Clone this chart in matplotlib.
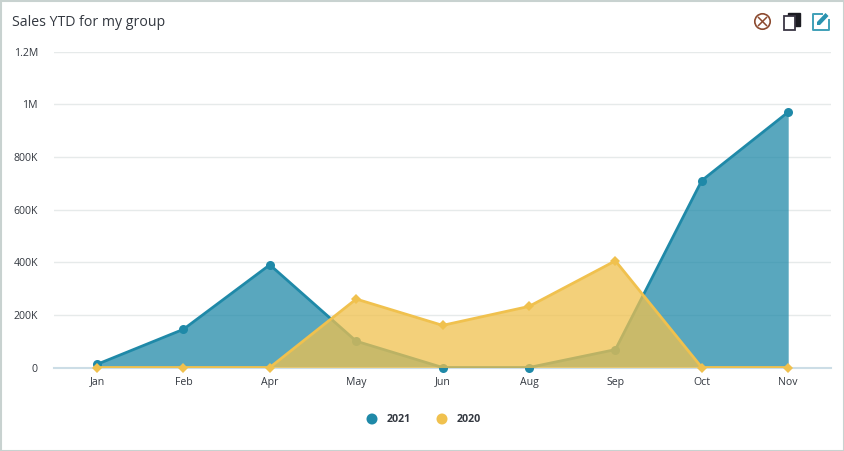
import matplotlib
matplotlib.use("Agg")
import matplotlib.pyplot as plt
from matplotlib.patches import Circle, Rectangle, Polygon
from matplotlib.ticker import FuncFormatter

months = ["Jan", "Feb", "Apr", "May", "Jun", "Aug", "Sep", "Oct", "Nov"]
sales_2021 = [12000, 145000, 390000, 100000, 0, 0, 68000, 710000, 970000]
sales_2020 = [0, 0, 0, 260000, 160000, 232000, 405000, 0, 0]
yticks = [0, 200000, 400000, 600000, 800000, 1000000, 1200000]
ytick_labels = ["0", "200K", "400K", "600K", "800K", "1M", "1.2M"]

W, H = 844, 451
col_2021 = "#1F89A8"
col_2020 = "#F0C14E"
text_col = "#333840"

plt.rcParams['font.family'] = ['Open Sans', 'DejaVu Sans']

fig = plt.figure(figsize=(W/100, H/100), dpi=100, facecolor="white")

# plot area, in pixels of the reference
left, right, top, bottom = 53.8, 831.4, 51.5, 367.5
ax = fig.add_axes([left/W, 1-bottom/H, (right-left)/W, (bottom-top)/H])
x = list(range(len(months)))

# lines are clipped at the baseline, markers are not
ax.fill_between(x, sales_2021, 0, color=col_2021, alpha=0.74, lw=0, zorder=2)
ax.plot(x, sales_2021, color=col_2021, lw=2, zorder=3)
ax.plot(x, sales_2021, ls="none", color=col_2021, marker="o", ms=6.5, mew=0, zorder=3, clip_on=False)
ax.fill_between(x, sales_2020, 0, color=col_2020, alpha=0.75, lw=0, zorder=4)
ax.plot(x, sales_2020, color=col_2020, lw=2, zorder=5)
ax.plot(x, sales_2020, ls="none", color=col_2020, marker="D", ms=4.8, mew=0, zorder=5, clip_on=False)

ax.set_xlim(-0.5, len(months)-0.5)
ax.set_ylim(0, 1200000)
ax.set_xticks(x)
ax.set_xticklabels(months)
ax.set_yticks(yticks)
ax.set_yticklabels(ytick_labels)
ax.tick_params(axis="x", length=0, pad=6.5, labelsize=7.6, labelcolor=text_col)
ax.tick_params(axis="y", length=0, pad=11.5, labelsize=7.6, labelcolor=text_col)
ax.grid(axis="y", color="#E6EAEA", lw=1)
ax.set_axisbelow(True)
for s in ["top", "right", "left"]:
    ax.spines[s].set_visible(False)
ax.spines["bottom"].set_color("#CCDDE6")
ax.spines["bottom"].set_linewidth(1.5)

# overlay in pixel coordinates for the card frame, title, legend and icons
ov = fig.add_axes([0, 0, 1, 1], facecolor="none")
ov.set_xlim(0, W)
ov.set_ylim(H, 0)
ov.axis("off")

ov.add_patch(Rectangle((0.5, 0.5), W-1, H-1, fill=False, ec="#C8D2D0", lw=1.5))
ov.text(12.5, 22, "Sales YTD for my group", fontsize=10.15, color=text_col, va="center", ha="left")

# legend
ov.add_patch(Circle((372, 419), 5.5, fc=col_2021, ec="none"))
ov.text(386.5, 420, "2021", fontsize=7.7, fontweight="bold", color=text_col, va="center")
ov.add_patch(Circle((442, 419), 5.5, fc=col_2020, ec="none"))
ov.text(457, 420, "2020", fontsize=7.7, fontweight="bold", color=text_col, va="center")

# close icon
ov.add_patch(Circle((762.5, 21.5), 7.7, fc="none", ec="#8C4A2F", lw=1.2))
ov.plot([758.5, 766.5], [17.5, 25.5], color="#8C4A2F", lw=1.1)
ov.plot([758.5, 766.5], [25.5, 17.5], color="#8C4A2F", lw=1.1)

# copy icon
ov.add_patch(Rectangle((788, 13), 12, 13, fc="#1C1C22", ec="#1C1C22", lw=1))
ov.add_patch(Rectangle((784, 16), 11, 13.5, fc="white", ec="#3A3644", lw=1.3))

# edit icon
ov.plot([822, 812.5, 812.5, 828.5, 828.5], [13.5, 13.5, 29.5, 29.5, 20], color="#3FA0B8", lw=1.4)
ov.add_patch(Polygon([(817, 25), (817, 22), (825.5, 13), (828.5, 16), (820, 25)], fc="#2A93B0", ec="none"))

fig.savefig("out.png", dpi=100)
